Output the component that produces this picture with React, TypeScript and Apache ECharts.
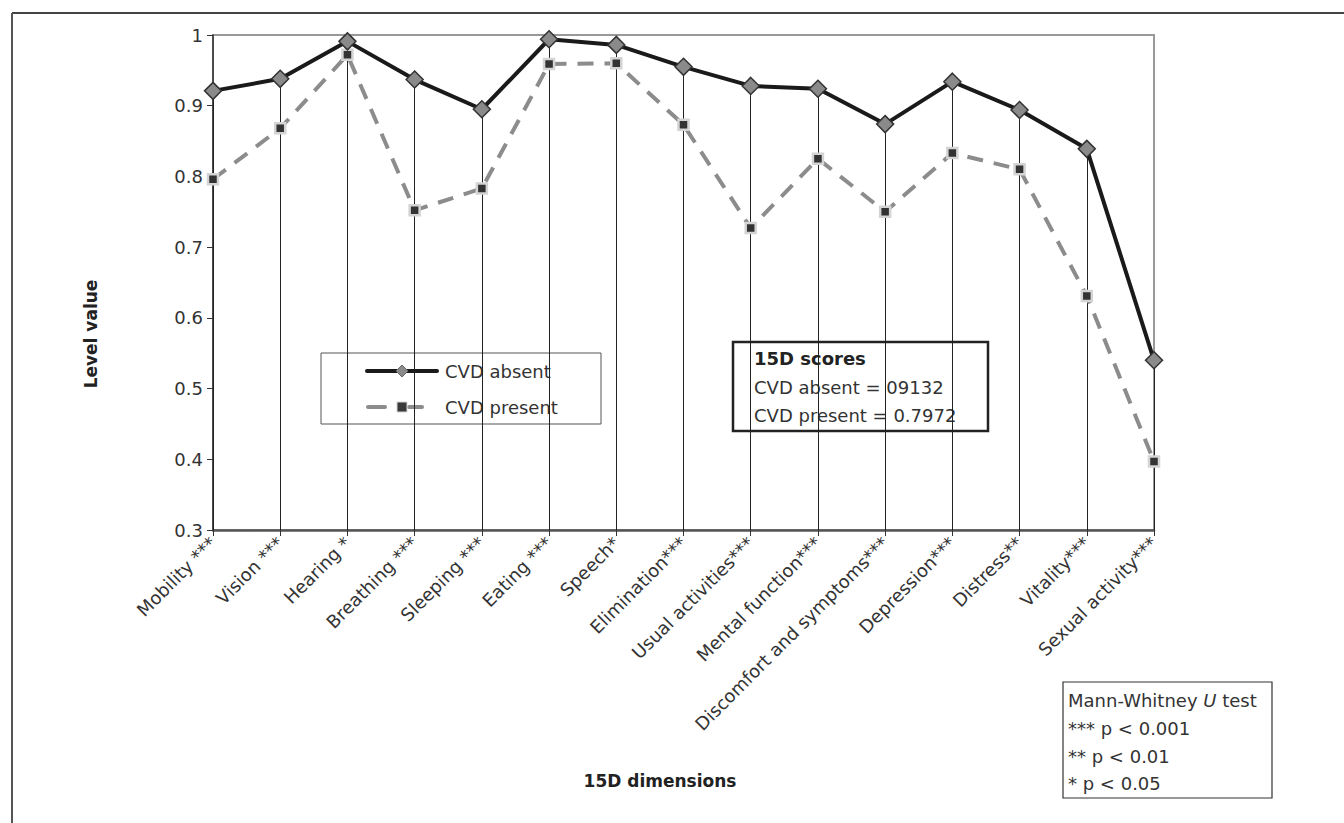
import React, { useEffect, useRef } from "react";
import * as echarts from "echarts";

const categories = [
  "Mobility ***", "Vision ***", "Hearing *", "Breathing ***", "Sleeping ***",
  "Eating ***", "Speech*", "Elimination***", "Usual activities***", "Mental function***",
  "Discomfort and symptoms***", "Depression***", "Distress**", "Vitality***", "Sexual activity***",
];
const cvdAbsent = [0.921, 0.938, 0.991, 0.937, 0.895, 0.994, 0.986, 0.955, 0.928, 0.924, 0.874, 0.934, 0.894, 0.839, 0.54];
const cvdPresent = [0.796, 0.868, 0.972, 0.752, 0.783, 0.959, 0.96, 0.873, 0.727, 0.825, 0.75, 0.833, 0.81, 0.631, 0.397];
const yTicks = [0.3, 0.4, 0.5, 0.6, 0.7, 0.8, 0.9, 1];
const scoreLines = ["15D scores", "CVD absent = 09132", "CVD present = 0.7972"];
const testLines = ["*** p < 0.001", "** p < 0.01", "* p < 0.05"];
const legendNames = ["CVD absent", "CVD present"];
const axisTitles = { x: "15D dimensions", y: "Level value" };

const FONT = "'DejaVu Sans', 'Noto Sans', sans-serif";

export default function App() {
  const ref = useRef<HTMLDivElement>(null);
  useEffect(() => {
    if (!ref.current) return;
    const chart = echarts.init(ref.current, undefined, { renderer: "svg" });
    const dropLines = categories.map((c, i) => [
      { coord: [i, yTicks[0]] },
      { coord: [i, Math.max(cvdAbsent[i], cvdPresent[i])] },
    ]);
    const option: any = {
      animation: false,
      backgroundColor: "#fff",
      textStyle: { fontFamily: FONT },
      grid: { left: 213, right: 190, top: 35, bottom: 293, show: true, borderColor: "#999", borderWidth: 2 },
      xAxis: {
        type: "category",
        data: categories,
        boundaryGap: false,
        axisLine: { lineStyle: { color: "#555", width: 2.5 } },
        axisTick: { show: true, length: 6, lineStyle: { color: "#333" } },
        axisLabel: { rotate: 45, fontSize: 18, color: "#333", margin: 10, fontFamily: FONT, interval: 0 },
        splitLine: { show: false },
      },
      yAxis: {
        type: "value",
        min: 0.3,
        max: 1,
        interval: 0.1,
        axisLine: { show: true, lineStyle: { color: "#333", width: 1.5 } },
        axisTick: { show: true, length: 6, lineStyle: { color: "#333" } },
        axisLabel: {
          fontSize: 18, color: "#333", margin: 10, fontFamily: FONT,
          formatter: (v: number) => (Math.abs(v - 1) < 1e-9 ? "1" : v.toFixed(1)),
        },
        splitLine: { show: false },
      },
      series: [
        {
          name: legendNames[1],
          type: "line",
          data: cvdPresent,
          symbol: "rect",
          symbolSize: 10,
          z: 3,
          lineStyle: { color: "#8c8c8c", width: 4, type: [16, 11] },
          itemStyle: { color: "#333", borderColor: "#d4d4d4", borderWidth: 2.5 },
        },
        {
          name: legendNames[0],
          type: "line",
          data: cvdAbsent,
          symbol: "diamond",
          symbolSize: 17,
          z: 4,
          lineStyle: { color: "#1a1a1a", width: 4 },
          itemStyle: { color: "#8a8a8a", borderColor: "#333", borderWidth: 1.5 },
          markLine: {
            silent: true,
            symbol: "none",
            label: { show: false },
            lineStyle: { color: "#222", width: 1, type: "solid" },
            z: 1,
            data: dropLines,
          },
        },
      ],
      graphic: [
        // outer frame (top + left)
        { type: "line", shape: { x1: 12, y1: 13, x2: 1344, y2: 13 }, style: { stroke: "#444", lineWidth: 2 } },
        { type: "line", shape: { x1: 12, y1: 13, x2: 12, y2: 823 }, style: { stroke: "#555", lineWidth: 2 } },
        // axis titles
        {
          type: "text", x: 91, y: 334, rotation: Math.PI / 2,
          style: { text: axisTitles.y, fill: "#222", font: `bold 17px ${FONT}`, align: "center", verticalAlign: "middle" },
        },
        {
          type: "text", x: 660, y: 781,
          style: { text: axisTitles.x, fill: "#222", font: `bold 17px ${FONT}`, align: "center", verticalAlign: "middle" },
        },
        // legend box
        {
          type: "group", x: 321, y: 353, z: 100,
          children: [
            { type: "rect", shape: { x: 0, y: 0, width: 280, height: 71 }, style: { fill: "#fff", stroke: "#555", lineWidth: 1 } },
            { type: "line", shape: { x1: 46, y1: 18, x2: 116, y2: 18 }, style: { stroke: "#1a1a1a", lineWidth: 4, lineCap: "round" } },
            { type: "polygon", shape: { points: [[81, 12], [87, 18], [81, 24], [75, 18]] }, style: { fill: "#8a8a8a", stroke: "#666", lineWidth: 1 } },
            { type: "text", style: { x: 124, y: 18, text: legendNames[0], fill: "#333", font: `18px ${FONT}`, verticalAlign: "middle" } },
            { type: "line", shape: { x1: 47, y1: 54, x2: 64, y2: 54 }, style: { stroke: "#8c8c8c", lineWidth: 4, lineCap: "round" } },
            { type: "line", shape: { x1: 88, y1: 54, x2: 101, y2: 54 }, style: { stroke: "#8c8c8c", lineWidth: 4, lineCap: "round" } },
            { type: "rect", shape: { x: 76, y: 49, width: 10, height: 10 }, style: { fill: "#3a3a3a", stroke: "#d4d4d4", lineWidth: 1 } },
            { type: "text", style: { x: 124, y: 54, text: legendNames[1], fill: "#333", font: `18px ${FONT}`, verticalAlign: "middle" } },
          ],
        },
        // scores box
        {
          type: "group", x: 733, y: 342, z: 100,
          children: [
            { type: "rect", shape: { x: 0, y: 0, width: 255, height: 89 }, style: { fill: "#fff", stroke: "#222", lineWidth: 2.5 } },
            { type: "text", style: { x: 21, y: 16, text: scoreLines[0], fill: "#222", font: `bold 18px ${FONT}`, verticalAlign: "middle" } },
            { type: "text", style: { x: 21, y: 45, text: scoreLines[1], fill: "#333", font: `18px ${FONT}`, verticalAlign: "middle" } },
            { type: "text", style: { x: 21, y: 73, text: scoreLines[2], fill: "#333", font: `18px ${FONT}`, verticalAlign: "middle" } },
          ],
        },
        // Mann-Whitney box
        {
          type: "group", x: 1063, y: 682, z: 100,
          children: [
            { type: "rect", shape: { x: 0, y: 0, width: 209, height: 116 }, style: { fill: "#fff", stroke: "#333", lineWidth: 1.2 } },
            {
              type: "text",
              style: {
                x: 5, y: 18,
                text: "{n|Mann-Whitney }{i|U}{n| test}",
                verticalAlign: "middle",
                rich: {
                  n: { fontSize: 18, fontFamily: FONT, fill: "#333" },
                  i: { fontSize: 18, fontFamily: FONT, fill: "#333", fontStyle: "italic" },
                },
              },
            },
            { type: "text", style: { x: 5, y: 46, text: testLines[0], fill: "#333", font: `18px ${FONT}`, verticalAlign: "middle" } },
            { type: "text", style: { x: 5, y: 74, text: testLines[1], fill: "#333", font: `18px ${FONT}`, verticalAlign: "middle" } },
            { type: "text", style: { x: 5, y: 101, text: testLines[2], fill: "#333", font: `18px ${FONT}`, verticalAlign: "middle" } },
          ],
        },
      ],
    };
    chart.setOption(option);
    return () => chart.dispose();
  }, []);
  return (
    <div
      ref={ref}
      style={{ position: "fixed", left: 0, top: 0, width: 1344, height: 823, background: "#fff" }}
    />
  );
}
